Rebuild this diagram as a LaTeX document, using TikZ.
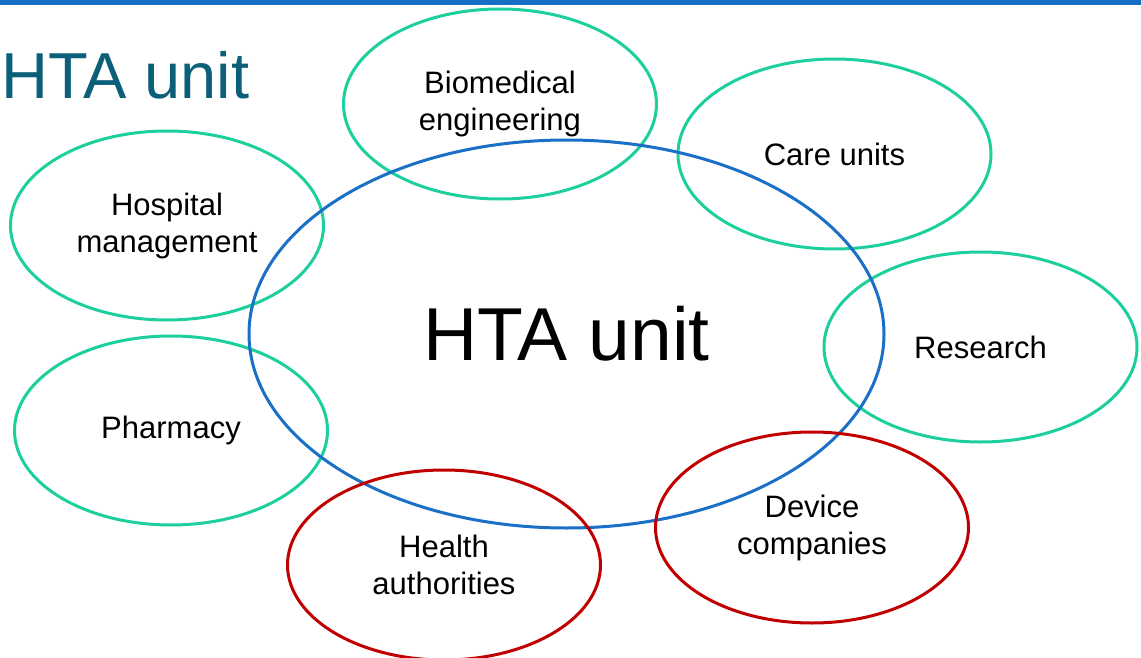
\documentclass[tikz,border=0pt]{standalone}
\usepackage{fontspec}
\setmainfont{Liberation Sans}
\usetikzlibrary{shapes.geometric}
\definecolor{barblue}{HTML}{1570C4}
\definecolor{hblue}{HTML}{1A6FC6}
\definecolor{sgreen}{HTML}{1DCF9C}
\definecolor{sred}{HTML}{C00000}
\definecolor{titleteal}{HTML}{0B5F78}
\tikzset{
  oval/.style={ellipse, draw, line width=3pt, inner sep=0pt, align=center,
    font=\fontsize{31}{37}\selectfont, text=black},
  greenoval/.style={oval, draw=sgreen, minimum width=313pt, minimum height=190pt},
  redoval/.style={oval, draw=sred, minimum width=313pt, minimum height=190pt},
}
\begin{document}
\begin{tikzpicture}[x=1pt,y=-1pt]
\useasboundingbox (0,0) rectangle (1141,658);
\fill[barblue] (0,0) rectangle (1141,5);
\node[anchor=base west, inner sep=0pt, text=titleteal, font=\fontsize{65}{72}\selectfont] (title) at (1,99) {HTA unit};
\node[greenoval] (bio) at (500,104) {Biomedical\\engineering};
\node[greenoval] (care) at (834.5,154) {Care units};
\node[greenoval, minimum height=189pt] (hosp) at (167,225.5) {Hospital\\management};
\node[greenoval] (res) at (980.5,347) {Research};
\node[greenoval, minimum height=189pt] (pharm) at (171,430.5) {Pharmacy};
\node[oval, draw=hblue, minimum width=635pt, minimum height=388pt, font=\fontsize{75}{82}\selectfont] (hta) at (566.5,334) {HTA unit};
\node[redoval, minimum height=191pt] (dev) at (812,527.5) {Device\\companies};
\node[redoval] (health) at (444,565) {Health\\authorities};
\end{tikzpicture}
\end{document}
